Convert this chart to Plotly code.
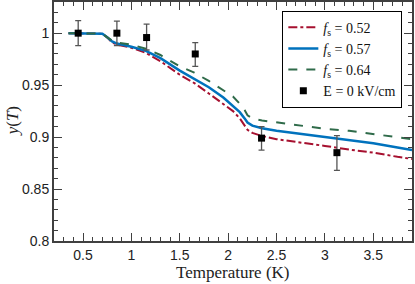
import plotly.graph_objects as go

# Curves
T = [0.35, 0.5, 0.65, 0.7, 0.75, 0.8, 0.85, 1.0, 1.15, 1.3, 1.5, 1.65, 1.8, 1.95,
     2.05, 2.12, 2.17, 2.2, 2.25, 2.35, 2.5, 2.75, 3.0, 3.25, 3.5, 3.75, 3.9]
y_052 = [1.0, 1.0, 1.0, 0.9995, 0.996, 0.991, 0.989, 0.986, 0.981, 0.973, 0.960, 0.952,
         0.942, 0.932, 0.925, 0.918, 0.911, 0.907, 0.904, 0.901, 0.898, 0.895, 0.8915,
         0.888, 0.885, 0.881, 0.879]
y_057 = [1.0, 1.0, 1.0, 0.9995, 0.996, 0.992, 0.990, 0.987, 0.983, 0.976, 0.964, 0.956,
         0.948, 0.938, 0.930, 0.924, 0.918, 0.914, 0.911, 0.9085, 0.906, 0.903, 0.900,
         0.897, 0.894, 0.890, 0.8875]
y_064 = [1.0, 1.0, 1.0, 0.9995, 0.996, 0.993, 0.991, 0.989, 0.985, 0.979, 0.968, 0.962,
         0.954, 0.945, 0.939, 0.932, 0.926, 0.921, 0.918, 0.916, 0.914, 0.911, 0.908,
         0.906, 0.903, 0.900, 0.898]

# Measured data
T_data = [0.45, 0.85, 1.157, 1.66, 2.345, 3.124]
y_data = [1.0, 1.0, 0.9958, 0.980, 0.899, 0.885]
err_plus = [0.012, 0.0115, 0.013, 0.011, 0.011, 0.0165]
err_minus = [0.012, 0.012, 0.012, 0.012, 0.0115, 0.017]

x_tickvals = [0.5, 1, 1.5, 2, 2.5, 3, 3.5]
x_ticktext = ["0.5", "1", "1.5", "2", "2.5", "3", "3.5"]
y_tickvals = [0.8, 0.85, 0.9, 0.95, 1.0]
y_ticktext = ["0.8", "0.85", "0.9", "0.95", "1"]

fig = go.Figure()
fig.add_trace(go.Scatter(x=T, y=y_052, mode="lines", name="<i>f</i><sub>s</sub> = 0.52",
                         line=dict(color="#a6102f", width=2, dash="dashdot")))
fig.add_trace(go.Scatter(x=T, y=y_057, mode="lines", name="<i>f</i><sub>s</sub> = 0.57",
                         line=dict(color="#0072bd", width=2.5)))
fig.add_trace(go.Scatter(x=T, y=y_064, mode="lines", name="<i>f</i><sub>s</sub> = 0.64",
                         line=dict(color="#2f6b4a", width=2, dash="dash")))
fig.add_trace(go.Scatter(x=T_data, y=y_data, mode="markers", name="E = 0 kV/cm",
                         marker=dict(symbol="square", size=7, color="black"),
                         error_y=dict(type="data", array=err_plus, arrayminus=err_minus,
                                      color="#555555", thickness=1.3, width=3)))

axis_common = dict(showline=True, linecolor="#404040", linewidth=2, mirror="ticks",
                   ticks="inside", ticklen=8, tickwidth=1.3, tickcolor="#404040",
                   showgrid=False, zeroline=False, automargin=False,
                   tickfont=dict(family="Liberation Sans, Arial", size=14, color="#222"))

fig.update_xaxes(range=[0.2, 3.9], tickvals=x_tickvals, ticktext=x_ticktext,
                 minor=dict(ticks="inside", dtick=0.1, ticklen=4, tickcolor="#404040", tickwidth=1.2),
                 **axis_common)
fig.update_yaxes(range=[0.8, 1.03], tickvals=y_tickvals, ticktext=y_ticktext,
                 minor=dict(ticks="inside", dtick=0.01, ticklen=4, tickcolor="#404040", tickwidth=1.2),
                 **axis_common)

title_font = dict(family="Liberation Serif, Times New Roman", size=17, color="#222")
fig.add_annotation(text="Temperature (K)", xref="paper", yref="paper", x=0.5, y=-0.13,
                   xanchor="center", yanchor="middle", showarrow=False, font=title_font)
fig.add_annotation(text="<i>y</i>(<i>T</i>)", xref="paper", yref="paper", x=-0.115, y=0.5,
                   xanchor="center", yanchor="middle", showarrow=False, textangle=-90,
                   font=title_font)

fig.update_layout(
    width=415, height=284,
    margin=dict(l=54, r=3, t=2, b=43, autoexpand=False),
    paper_bgcolor="white", plot_bgcolor="white",
    showlegend=True,
    legend=dict(x=0.973, y=0.964, xanchor="right", yanchor="top",
                bgcolor="white", bordercolor="black", borderwidth=1,
                font=dict(family="Liberation Serif, Times New Roman", size=14, color="#111"),
                tracegroupgap=0, itemwidth=30),
)

fig.write_html("out.html", config={"displayModeBar": False},
               post_script="document.body.style.margin='0';")
